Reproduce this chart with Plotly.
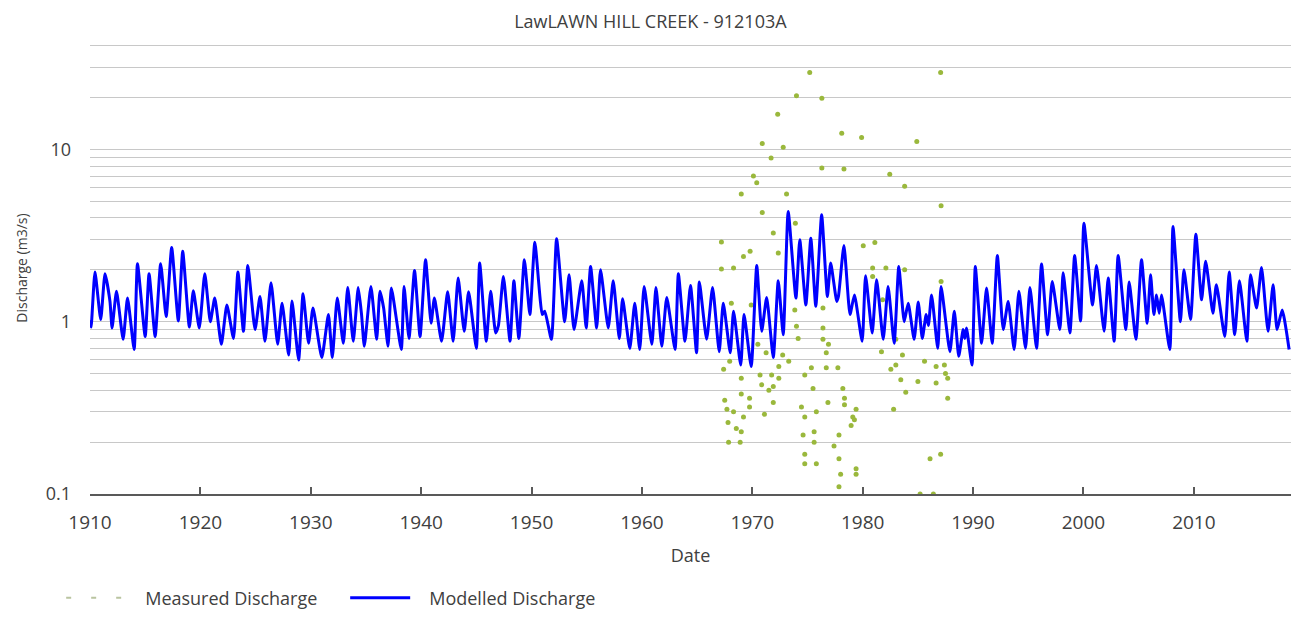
import plotly.graph_objects as go

# Modelled discharge (m3/s): seasonal highs and lows, decimal years
model_year = [
    1910.0, 1910.1, 1910.45, 1910.97, 1911.36, 1911.81, 1912.0, 1912.4, 1913.0, 1913.4,
    1914.0, 1914.3, 1915.0, 1915.35, 1915.9, 1916.4, 1916.9, 1917.4, 1918.0, 1918.4,
    1919.0, 1919.36, 1919.9, 1920.4, 1920.9, 1921.3, 1921.9, 1922.4, 1923.0, 1923.4,
    1923.9, 1924.3, 1924.95, 1925.4, 1925.85, 1926.4, 1927.0, 1927.4, 1928.0, 1928.3,
    1928.9, 1929.3, 1929.8, 1930.2, 1931.0, 1931.6, 1931.95, 1932.4, 1932.95, 1933.35,
    1933.85, 1934.3, 1934.6, 1934.85, 1935.45, 1935.97, 1936.27, 1936.6, 1937.0, 1937.3,
    1938.2, 1938.45, 1938.9, 1939.4, 1939.9, 1940.4, 1940.9, 1941.2, 1941.85, 1942.4,
    1942.9, 1943.35, 1943.9, 1944.3, 1945.0, 1945.3, 1945.9, 1946.3, 1946.75, 1947.0,
    1947.45, 1948.05, 1948.4, 1948.85, 1949.35, 1949.85, 1950.3, 1950.97, 1951.2, 1951.8,
    1952.27, 1953.0, 1953.4, 1953.85, 1954.55, 1954.95, 1955.35, 1955.9, 1956.25, 1956.95,
    1957.4, 1957.95, 1958.25, 1958.9, 1959.35, 1959.8, 1960.2, 1960.9, 1961.27, 1961.8,
    1962.25, 1963.0, 1963.3, 1963.9, 1964.4, 1964.95, 1965.2, 1965.86, 1966.4, 1967.0,
    1967.37, 1968.0, 1968.3, 1968.95, 1969.25, 1969.9, 1970.4, 1970.85, 1971.3, 1971.9,
    1972.35, 1972.8, 1973.25, 1973.95, 1974.3, 1974.85, 1975.3, 1975.75, 1976.28, 1976.8,
    1977.1, 1977.65, 1977.8, 1978.3, 1978.85, 1979.25, 1979.95, 1980.26, 1980.86, 1981.26,
    1981.86, 1982.3, 1982.85, 1983.27, 1983.76, 1984.12, 1984.66, 1985.03, 1985.4, 1985.75,
    1985.95, 1986.24, 1986.8, 1987.1, 1987.9, 1988.3, 1988.7, 1989.1, 1989.25, 1989.4,
    1989.9, 1990.2, 1990.77, 1991.22, 1991.73, 1992.2, 1992.73, 1993.18, 1993.72, 1994.15,
    1994.75, 1995.15, 1995.75, 1996.2, 1996.75, 1997.17, 1997.86, 1998.16, 1998.77, 1999.2,
    1999.74, 2000.04, 2000.82, 2001.18, 2001.87, 2002.24, 2002.78, 2003.14, 2003.84, 2004.14,
    2004.75, 2005.26, 2005.77, 2006.08, 2006.38, 2006.62, 2006.86, 2007.07, 2007.82, 2008.11,
    2008.78, 2009.1, 2009.7, 2010.18, 2010.7, 2011.07, 2011.73, 2012.04, 2012.8, 2013.2,
    2013.7, 2014.13, 2014.8, 2015.13, 2015.68, 2016.13, 2016.72, 2017.18, 2017.54, 2018.0,
    2018.63,
]
model_q = [
    1.02, 0.93, 1.94, 1.03, 1.90, 1.31, 0.92, 1.50, 0.79, 1.37,
    0.69, 2.17, 0.82, 1.90, 0.82, 2.17, 1.07, 2.69, 1.01, 2.56,
    0.93, 1.51, 0.92, 1.90, 1.00, 1.37, 0.74, 1.25, 0.80, 1.94,
    0.88, 2.12, 0.90, 1.40, 0.77, 1.68, 0.74, 1.28, 0.64, 1.32,
    0.60, 1.45, 0.75, 1.20, 0.62, 1.10, 0.62, 1.37, 0.75, 1.58,
    0.77, 1.58, 1.10, 0.72, 1.60, 0.79, 1.50, 1.20, 0.72, 1.57,
    0.69, 1.60, 0.80, 1.98, 0.82, 2.29, 0.98, 1.37, 0.77, 1.49,
    0.77, 1.79, 0.88, 1.49, 0.70, 2.19, 0.77, 1.50, 0.86, 0.95,
    1.83, 0.77, 1.73, 0.80, 2.29, 1.10, 2.89, 1.10, 1.15, 0.79,
    3.03, 1.00, 1.87, 0.90, 1.73, 0.92, 2.09, 0.92, 2.00, 0.92,
    1.73, 0.80, 1.36, 0.70, 1.28, 0.69, 1.60, 0.74, 1.58, 0.72,
    1.38, 0.69, 1.90, 0.77, 1.62, 0.66, 1.70, 0.79, 1.58, 0.67,
    1.28, 0.66, 1.15, 0.56, 1.10, 0.55, 2.12, 0.88, 1.38, 0.62,
    1.73, 0.84, 4.36, 1.37, 2.99, 1.25, 3.05, 1.23, 4.17, 1.40,
    2.19, 1.31, 1.40, 2.77, 1.10, 1.43, 0.77, 1.85, 0.86, 1.75,
    0.79, 1.60, 0.75, 2.09, 1.00, 1.28, 0.79, 1.30, 0.80, 1.10,
    0.95, 1.43, 0.70, 1.60, 0.67, 1.15, 0.63, 0.90, 0.80, 0.92,
    0.56, 2.09, 0.75, 1.57, 0.75, 2.42, 0.90, 1.31, 0.69, 1.50,
    0.70, 1.58, 0.70, 2.16, 0.84, 1.71, 0.90, 1.92, 0.86, 2.42,
    1.01, 3.73, 1.25, 2.12, 0.88, 1.79, 0.77, 2.42, 0.90, 1.70,
    0.79, 2.29, 0.98, 1.87, 1.10, 1.43, 1.12, 1.43, 0.69, 3.57,
    1.00, 2.00, 1.03, 3.22, 1.34, 2.24, 1.12, 1.64, 0.82, 1.94,
    0.84, 1.73, 0.77, 1.87, 1.20, 2.06, 0.88, 1.64, 0.90, 1.17,
    0.69,
]

# Measured discharge (m3/s) at the gauge, decimal years
meas_year = [
    1975.2, 1987.06, 1974.0, 1976.3, 1972.3, 1978.1, 1979.9, 1984.9, 1970.9, 1972.8,
    1971.7, 1976.3, 1978.3, 1982.45, 1970.1, 1970.4, 1983.8, 1969.0, 1973.1, 1987.1,
    1970.9, 1973.9, 1971.9, 1967.2, 1980.05, 1981.1, 1972.35, 1969.8, 1969.2, 1967.2,
    1968.3, 1980.9, 1982.1, 1983.8, 1968.1, 1969.9, 1973.85, 1976.4, 1974.0, 1976.4,
    1974.15, 1976.4, 1976.9, 1976.7, 1980.9, 1981.8, 1983.0, 1983.6, 1981.7, 1983.0,
    1982.55, 1983.45, 1983.9, 1985.0, 1985.6, 1986.65, 1986.65, 1987.4, 1987.5, 1987.7,
    1987.7, 1987.1, 1982.8, 1986.1, 1987.06, 1985.2, 1986.4, 1967.95, 1967.4, 1969.0,
    1970.7, 1971.75, 1970.85, 1971.9, 1971.9, 1969.0, 1969.75, 1967.5, 1969.75, 1967.7,
    1968.3, 1969.2, 1967.8, 1968.55, 1969.0, 1967.85, 1968.9, 1971.1, 1971.5, 1972.4,
    1973.3, 1972.75, 1970.5, 1971.25, 1972.4, 1974.45, 1974.75, 1974.6, 1974.75, 1974.75,
    1975.8, 1975.6, 1975.6, 1975.35, 1976.7, 1977.75, 1974.75, 1975.5, 1978.2, 1978.35,
    1978.35, 1976.85, 1975.8, 1979.1, 1979.4, 1978.95, 1977.85, 1977.4, 1977.85, 1978.0,
    1977.85, 1979.4, 1979.4, 1979.25,
]
meas_q = [
    27.9, 27.9, 20.5, 19.8, 16.0, 12.4, 11.7, 11.1, 10.8, 10.3,
    8.9, 7.8, 7.7, 7.18, 7.0, 6.4, 6.1, 5.5, 5.5, 4.7,
    4.3, 3.73, 3.27, 2.9, 2.76, 2.88, 2.5, 2.56, 2.39, 2.02,
    2.05, 2.05, 2.05, 2.0, 1.28, 1.25, 1.17, 1.20, 0.94, 0.92,
    0.80, 0.79, 0.74, 0.66, 1.83, 1.34, 0.79, 0.64, 0.67, 0.56,
    0.53, 0.46, 0.39, 0.45, 0.59, 0.55, 0.44, 0.56, 0.50, 0.47,
    0.36, 1.71, 0.31, 0.16, 0.17, 0.10, 0.10, 0.59, 0.53, 0.47,
    0.49, 0.49, 0.43, 0.42, 0.34, 0.38, 0.36, 0.35, 0.32, 0.31,
    0.30, 0.28, 0.26, 0.24, 0.23, 0.20, 0.20, 0.29, 0.40, 0.55,
    0.59, 0.64, 0.74, 0.66, 0.47, 0.32, 0.28, 0.22, 0.17, 0.15,
    0.15, 0.23, 0.20, 0.54, 0.54, 0.54, 0.49, 0.41, 0.41, 0.36,
    0.33, 0.34, 0.30, 0.28, 0.31, 0.25, 0.22, 0.19, 0.16, 0.13,
    0.11, 0.14, 0.13, 0.27,
]

decade_ticks = [1910, 1920, 1930, 1940, 1950, 1960, 1970, 1980, 1990, 2000, 2010]
decade_labels = [str(y) for y in decade_ticks]

# Log gridlines at every 1..9 step of each decade, labelled only at powers of ten
y_grid = sorted(set(round(m * 10.0 ** e, 3) for e in (-1, 0, 1) for m in range(1, 10)))
y_grid += [20, 30, 40]
y_labels = ["0.1" if v == 0.1 else "1" if v == 1 else "10" if v == 10 else "" for v in y_grid]

FONT = "Open Sans"
TEXT = "#404040"
PAD = "\u00a0\u00a0\u00a0"

fig = go.Figure()

fig.add_trace(go.Scatter(
    x=meas_year, y=meas_q, mode="markers",
    marker=dict(size=5, color="#9ab83c", line=dict(width=0)),
    name="Measured Discharge", showlegend=False,
))
# legend entry for the measured series (dashed key)
fig.add_trace(go.Scatter(
    x=[None], y=[None], mode="lines",
    line=dict(color="#b9c4a0", width=2, dash="5px,20px"),
    name=PAD + "Measured Discharge",
))
fig.add_trace(go.Scatter(
    x=model_year, y=model_q, mode="lines",
    line=dict(color="#0000ff", width=3, shape="spline", smoothing=0.5),
    name=PAD + "Modelled Discharge",
))

fig.update_layout(
    width=1293, height=628,
    margin=dict(l=90, r=2, t=42, b=134),
    paper_bgcolor="white", plot_bgcolor="white",
    font=dict(family=FONT, color=TEXT),
    title=dict(text="LawLAWN HILL CREEK - 912103A", x=0.503, xref="container",
               y=1 - 22 / 628, yref="container", xanchor="center", yanchor="middle",
               font=dict(size=18, color=TEXT)),
    showlegend=True,
    legend=dict(orientation="h", x=-0.024, xanchor="left", y=-0.23, yanchor="middle",
                font=dict(size=18, color=TEXT), itemwidth=60,
                entrywidth=209, entrywidthmode="pixels",
                bgcolor="rgba(0,0,0,0)"),
)

fig.update_xaxes(
    range=[1910, 2018.8], tickvals=decade_ticks, ticktext=decade_labels,
    showgrid=False, zeroline=False,
    showline=True, linecolor="#595959", linewidth=2,
    ticks="inside", ticklen=7, tickwidth=1.5, tickcolor="#595959",
    tickfont=dict(size=19, color=TEXT), ticklabelstandoff=10,
    title=dict(text="Date", font=dict(size=18, color=TEXT), standoff=16),
)
fig.update_yaxes(
    type="log", range=[-1, 1.623], tickvals=y_grid, ticktext=y_labels,
    showgrid=True, gridcolor="#c8c8c8", gridwidth=1,
    showline=False, zeroline=False, ticks="",
    tickfont=dict(size=18, color=TEXT), ticklabelstandoff=18,
    title=dict(text="Discharge (m3/s)", font=dict(size=14, color=TEXT), standoff=14),
)

fig.write_html("out.html")
